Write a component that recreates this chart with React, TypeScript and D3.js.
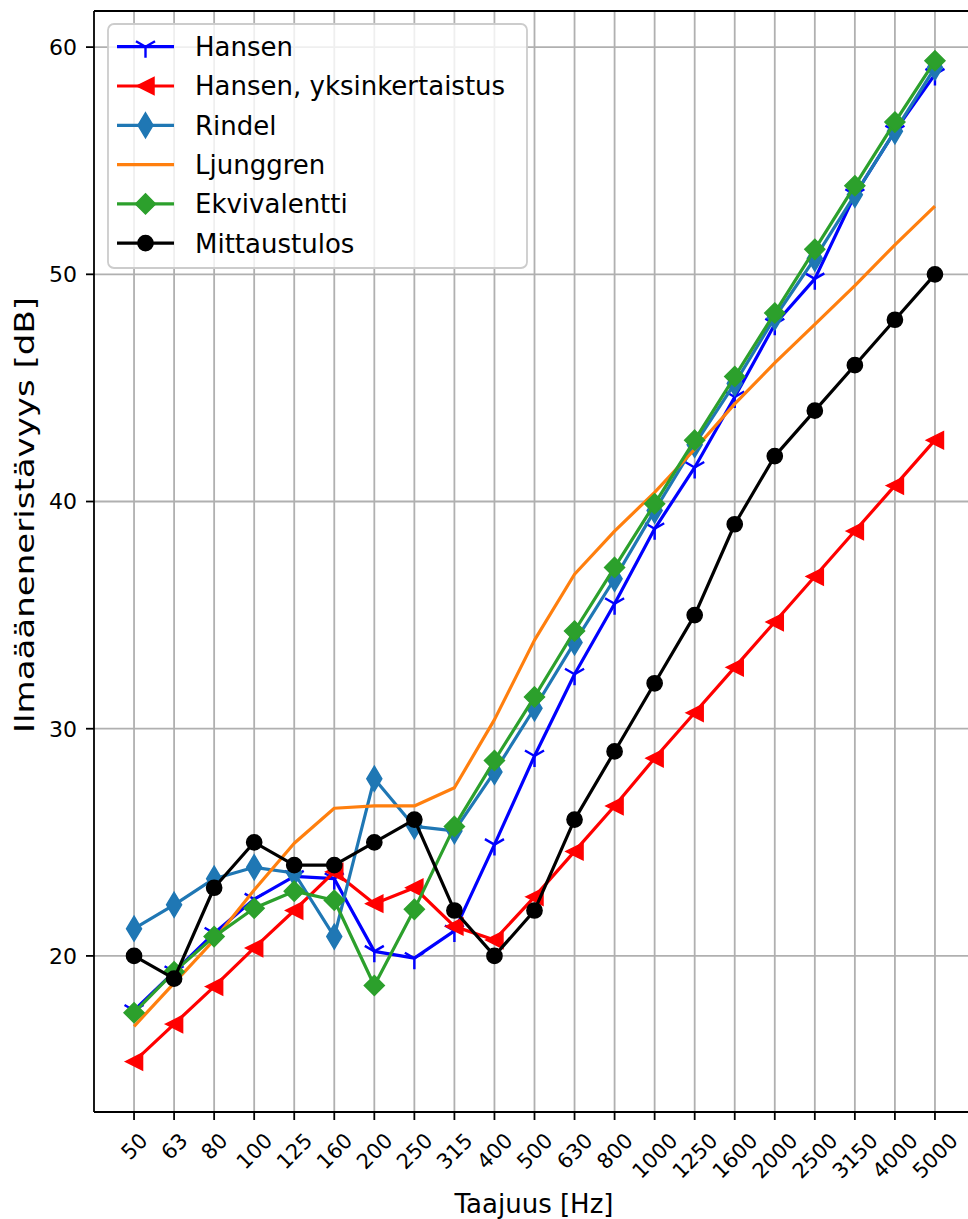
import React from "react";
import * as d3 from "d3";

const freqs = ["50","63","80","100","125","160","200","250","315","400","500","630","800","1000","1250","1600","2000","2500","3150","4000","5000"];
const hansen = [17.6, 19.3, 21.0, 22.5, 23.5, 23.4, 20.2, 19.9, 21.1, 24.9, 28.8, 32.4, 35.5, 38.8, 41.5, 44.6, 47.8, 49.8, 53.5, 56.3, 58.8];
const hansenSimpl = [15.35, 17.0, 18.65, 20.35, 22.0, 23.7, 22.3, 23.0, 21.3, 20.7, 22.6, 24.6, 26.6, 28.7, 30.7, 32.7, 34.7, 36.7, 38.7, 40.7, 42.7];
const rindel = [21.2, 22.25, 23.4, 23.9, 23.65, 20.85, 27.8, 25.7, 25.5, 28.1, 30.9, 33.8, 36.6, 39.6, 42.5, 45.2, 48.1, 50.7, 53.5, 56.3, 59.1];
const ljunggren = [16.9, 18.8, 20.7, 22.9, 24.96, 26.5, 26.6, 26.6, 27.4, 30.4, 33.9, 36.8, 38.7, 40.4, 42.3, 44.3, 46.1, 47.8, 49.5, 51.3, 53.0];
const ekvivalentti = [17.5, 19.3, 20.85, 22.1, 22.85, 22.45, 18.7, 22.05, 25.7, 28.6, 31.4, 34.3, 37.1, 39.9, 42.7, 45.5, 48.3, 51.1, 53.9, 56.7, 59.4];
const mittaus = [20, 19, 23, 25, 24, 24, 25, 26, 22, 20, 22, 26, 29, 32, 35, 39, 42, 44, 46, 48, 50];
const yTicks = [20, 30, 40, 50, 60];

type Marker = "tri_down" | "tri_left" | "thin_diamond" | "diamond" | "circle" | "none";
const seriesList: { name: string; values: number[]; color: string; marker: Marker }[] = [
  { name: "Hansen", values: hansen, color: "#0000ff", marker: "tri_down" },
  { name: "Hansen, yksinkertaistus", values: hansenSimpl, color: "#ff0000", marker: "tri_left" },
  { name: "Rindel", values: rindel, color: "#1f77b4", marker: "thin_diamond" },
  { name: "Ljunggren", values: ljunggren, color: "#ff7f0e", marker: "none" },
  { name: "Ekvivalentti", values: ekvivalentti, color: "#2ca02c", marker: "diamond" },
  { name: "Mittaustulos", values: mittaus, color: "#000000", marker: "circle" },
];

const W = 968, H = 1219;
const left = 94, right = 975, top = 11, bottom = 1112;

function MarkerShape({ type, x, y, color }: { type: Marker; x: number; y: number; color: string }) {
  const t = `translate(${x},${y})`;
  switch (type) {
    case "tri_down": {
      const s = 11;
      return <path transform={t} d={`M0,0L0,${s}M0,0L${0.866 * s},${-0.5 * s}M0,0L${-0.866 * s},${-0.5 * s}`} stroke={color} strokeWidth={2.4} fill="none" />;
    }
    case "tri_left": {
      const s = 8.5;
      return <path transform={t} d={`M${-s},0L${s},${-s}L${s},${s}Z`} fill={color} stroke={color} strokeWidth={1.5} />;
    }
    case "thin_diamond": {
      const h = 12.5, w = 7.5;
      return <path transform={t} d={`M0,${-h}L${w},0L0,${h}L${-w},0Z`} fill={color} stroke={color} strokeWidth={1.5} />;
    }
    case "diamond": {
      const s = 10;
      return <path transform={t} d={`M0,${-s}L${s},0L0,${s}L${-s},0Z`} fill={color} stroke={color} strokeWidth={1.5} />;
    }
    case "circle":
      return <circle cx={x} cy={y} r={7.6} fill={color} stroke={color} strokeWidth={1.5} />;
    default:
      return null;
  }
}

export default function App() {
  const x = d3.scaleLinear().domain([-1, freqs.length]).range([left, right]);
  const y = d3.scaleLinear().domain([13.13, 61.59]).range([bottom, top]);
  const line = d3.line<number>().x((_, i) => x(i)).y((v) => y(v));
  const font = "DejaVu Sans, sans-serif";
  const tickFont = 21;

  const legendX = 108, legendY = 24, legendW = 419, legendH = 244;
  const rowY0 = 46.7, rowStep = 39.3;

  return (
    <svg width={W} height={H} style={{ position: "absolute", left: 0, top: 0, background: "#fff" }} fontFamily={font}>
      <rect x={0} y={0} width={W} height={H} fill="#fff" />
      {/* grid */}
      <g stroke="#b0b0b0" strokeWidth={1.8}>
        {freqs.map((f, i) => (
          <line key={f} x1={x(i)} x2={x(i)} y1={top} y2={bottom} />
        ))}
        {yTicks.map((t) => (
          <line key={t} x1={left} x2={right} y1={y(t)} y2={y(t)} />
        ))}
      </g>
      {/* series */}
      {seriesList.map((s) => (
        <g key={s.name}>
          <path d={line(s.values) || ""} fill="none" stroke={s.color} strokeWidth={3.2} strokeLinejoin="round" />
          {s.values.map((v, i) => (
            <MarkerShape key={i} type={s.marker} x={x(i)} y={y(v)} color={s.color} />
          ))}
        </g>
      ))}
      {/* spines */}
      <g stroke="#000" strokeWidth={1.8} fill="none">
        <line x1={left} x2={left} y1={top} y2={bottom} />
        <line x1={left} x2={right} y1={bottom} y2={bottom} />
        <line x1={left} x2={right} y1={top} y2={top} />
        <line x1={right} x2={right} y1={top} y2={bottom} />
      </g>
      {/* x ticks */}
      {freqs.map((f, i) => {
        const w = f.length * 0.636 * tickFont - 2;
        const ink = (w + 0.73 * tickFont) / Math.SQRT2;
        const yc = 1132 + ink / 2;
        return (
          <g key={f}>
            <line x1={x(i)} x2={x(i)} y1={bottom} y2={bottom + 8} stroke="#000" strokeWidth={1.8} />
            <text
              transform={`translate(${x(i)},${yc}) rotate(-45)`}
              textAnchor="middle"
              dy="0.36em"
              fontSize={tickFont}
              fill="#000"
            >
              {f}
            </text>
          </g>
        );
      })}
      {/* y ticks */}
      {yTicks.map((t) => (
        <g key={t}>
          <line x1={left - 8} x2={left} y1={y(t)} y2={y(t)} stroke="#000" strokeWidth={1.8} />
          <text x={77} y={y(t)} dy="0.36em" textAnchor="end" fontSize={22} fill="#000">
            {t}
          </text>
        </g>
      ))}
      {/* axis labels */}
      <text x={534} y={1213} textAnchor="middle" fontSize={26} fill="#000">
        Taajuus [Hz]
      </text>
      <text
        transform={`translate(34,515) rotate(-90)`}
        textAnchor="middle"
        fontSize={26}
        fill="#000"
        textLength={436}
        lengthAdjust="spacingAndGlyphs"
      >
        Ilmaääneneristävyys [dB]
      </text>
      {/* legend */}
      <rect x={legendX} y={legendY} width={legendW} height={legendH} rx={6} fill="#fff" fillOpacity={0.8} stroke="#cccccc" strokeWidth={1.8} />
      {seriesList.map((s, k) => {
        const cy = rowY0 + k * rowStep;
        return (
          <g key={s.name}>
            <line x1={117} x2={174} y1={cy} y2={cy} stroke={s.color} strokeWidth={3.2} />
            <MarkerShape type={s.marker} x={145.5} y={cy} color={s.color} />
            <text x={195} y={cy} dy="0.36em" fontSize={26} fill="#000">
              {s.name}
            </text>
          </g>
        );
      })}
    </svg>
  );
}
